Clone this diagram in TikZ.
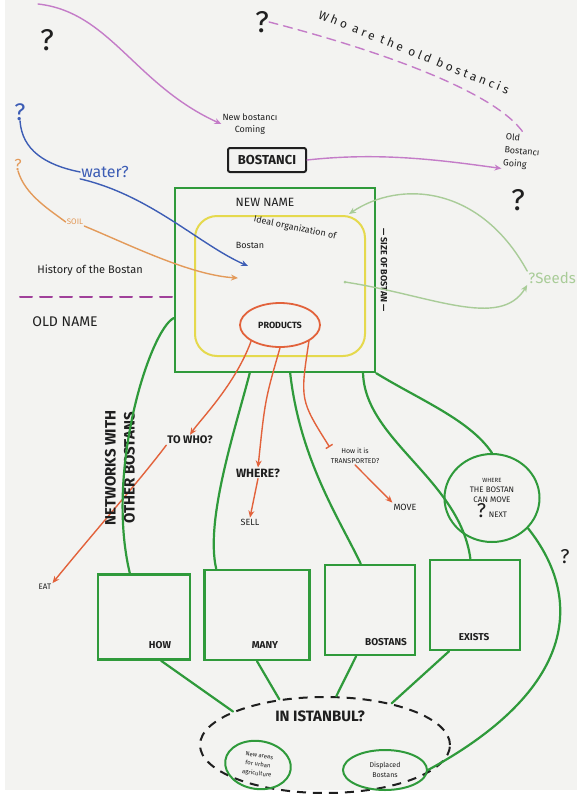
\documentclass[tikz,border=0pt]{standalone}
\usepackage{fontspec}
\setmainfont{Fira Sans}
\newfontfamily\widehand{Fira Sans}[LetterSpace=26.0]
\usetikzlibrary{arrows.meta,shapes.geometric,calc}
\definecolor{paper}{HTML}{F3F3F1}
\definecolor{ink}{HTML}{1F1F1F}
\definecolor{lilac}{HTML}{C47CC8}
\definecolor{namedash}{HTML}{A0409A}
\definecolor{blueink}{HTML}{3D5DB5}
\definecolor{soil}{HTML}{E39A5A}
\definecolor{redink}{HTML}{E2623B}
\definecolor{grn}{HTML}{2F9A3B}
\definecolor{seed}{HTML}{A9CC98}
\definecolor{yel}{HTML}{E5D94D}
\tikzset{
  pen/.style={line width=1.4pt, line cap=round, line join=round},
  greenpen/.style={pen, draw=grn, line width=2.2pt},
  lilacpen/.style={pen, draw=lilac},
  bluepen/.style={pen, draw=blueink},
  soilpen/.style={pen, draw=soil},
  redpen/.style={pen, draw=redink},
  seedpen/.style={pen, draw=seed},
  gbox/.style={rectangle, draw=grn, line width=2.4pt, inner sep=0pt},
  gell/.style={ellipse, draw=grn, line width=2pt, inner sep=0pt, align=center, text=ink},
  hand/.style={text=ink, font=\fontsize{9}{12}\selectfont, align=center, inner sep=1pt},
  caps/.style={text=ink, font=\fontsize{11}{12}\selectfont\bfseries, align=center, inner sep=1pt},
  qmark/.style={text=ink, font=\fontsize{30}{30}\selectfont, inner sep=0pt},
  tip/.style={-{Stealth[length=7pt,width=6pt]}},
}

\begin{document}
\begin{tikzpicture}[x=1pt, y=-1pt]
  % paper
  \fill[white] (0,0) rectangle (577,796);
  \fill[paper] (5,0) rectangle (577,790);
  \useasboundingbox (0,0) rectangle (577,796);

  % top: who comes, who goes
  \node[qmark] (q1) at (47,40) {?};
  \node[qmark] (q2) at (262,22) {?};
  \node[qmark] (q3) at (518,200) {?};
  \coordinate (topleft) at (38,4);
  \node[hand] (newb) at (250,124) {New bostancı\\Coming};
  \node[hand, font=\widehand\fontsize{12}{13}\selectfont, rotate=-22] (who) at (414,52) {Who are the old bostancis};
  \node[hand, rotate=-6, align=left, font=\fontsize{9}{13}\selectfont] (oldb) at (522,152) {Old\\Bostancı\\Going};
  \draw[lilacpen, tip] (topleft) .. controls (110,12) and (135,85) .. (newb.west);
  \draw[lilacpen, dashed, dash pattern=on 9pt off 6pt] (q2.east) .. controls (370,48) and (495,90) .. (oldb.north);
  \node[draw=ink, line width=2pt, rounded corners=2pt, font=\fontsize{13}{14}\selectfont\bfseries,
        text=ink, minimum width=78pt, minimum height=24pt] (bost) at (267,160) {BOSTANCI};
  \draw[lilacpen, tip] (bost.east) .. controls (380,152) and (440,160) .. (oldb.south west);

  % new name box
  \node[gbox, minimum width=200pt, minimum height=184pt] (newname) at (275,280) {};
  \node[caps, font=\fontsize{12}{13}\selectfont] (nn) at (265,202) {NEW NAME};
  \node[draw=yel, line width=2pt, rounded corners=22pt, minimum width=170pt, minimum height=140pt] (ideal) at (280,286) {};
  \node[hand, rotate=-12] (idealtxt) at (295,228) {Ideal organization of};
  \node[hand] (bostan) at (250,245) {Bostan};
  \node[ellipse, draw=redink, line width=1.8pt, minimum width=80pt, minimum height=44pt,
        caps, font=\fontsize{9}{10}\selectfont\bfseries] (prod) at (280,325) {PRODUCTS};
  \node[caps, font=\fontsize{9}{10}\selectfont\bfseries, rotate=-90] (size) at (384,270) {— SIZE OF BOSTAN —};

  % what comes in from the left
  \node[qmark, text=blueink, font=\fontsize{24}{24}\selectfont] (qw) at (20,112) {?};
  \node[hand, text=blueink, font=\fontsize{16}{16}\selectfont] (water) at (105,172) {water?};
  \coordinate (watertip) at (248,266);
  \draw[bluepen] (qw.south) .. controls (22,150) and (45,165) .. (water.west);
  \draw[bluepen, tip] (water.south west) .. controls (150,195) and (200,245) .. (watertip);
  \node[qmark, text=soil, font=\fontsize{16}{16}\selectfont] (qs) at (18,165) {?};
  \node[hand, text=soil, font=\fontsize{8}{9}\selectfont] (soiltxt) at (75,222) {SOIL};
  \coordinate (soiltip) at (238,278);
  \draw[soilpen] (qs.south) .. controls (25,195) and (50,210) .. (soiltxt.west);
  \draw[soilpen, tip] (soiltxt.south east) .. controls (130,245) and (190,275) .. (soiltip);
  \node[hand, font=\fontsize{11}{12}\selectfont] (hist) at (90,270) {History of the Bostan};
  \coordinate (oldstart) at (20,297);
  \draw[pen, draw=namedash, line width=2pt, dash pattern=on 12pt off 8pt] (oldstart) -- (oldstart -| newname.west);
  \node[caps, font=\fontsize{14}{15}\selectfont] (oldname) at (65,322) {OLD NAME};

  % seeds
  \node[hand, text=seed, font=\fontsize{15}{15}\selectfont, anchor=east] (seeds) at (577,278) {?Seeds};
  \coordinate (seedtip) at (349,214);
  \coordinate (seeddot) at (345,282);
  \fill[seed] (seeddot) circle (1.5);
  \draw[seedpen, tip] (seeds.north west) .. controls (480,185) and (400,180) .. (seedtip);
  \draw[seedpen, tip] (seeddot) .. controls (430,295) and (500,330) .. (seeds.south west);

  % products and where they go
  \node[caps] (towho) at (190,440) {TO WHO?};
  \node[caps, font=\fontsize{8}{9}\selectfont] (eat) at (45,587) {EAT};
  \node[caps, font=\fontsize{12}{13}\selectfont\bfseries] (where) at (258,473) {WHERE?};
  \node[caps, font=\fontsize{9}{10}\selectfont] (sell) at (250,522) {SELL};
  \node[hand, font=\fontsize{7}{10}\selectfont] (trans) at (355,456) {How it is\\TRANSPORTED?};
  \node[caps, font=\fontsize{9}{10}\selectfont] (move) at (405,507) {MOVE};
  \draw[redpen, tip] (prod.south west) .. controls (235,385) and (200,420) .. (towho.north);
  \draw[redpen, tip] (towho.south west) .. controls (140,480) and (100,525) .. (eat.north east);
  \draw[redpen, tip] (prod.south) .. controls (265,400) .. (where.north);
  \draw[redpen, tip] (where.south) -- (sell.north);
  \draw[redpen, -{Bar[width=8pt]}] (prod.south east) .. controls (300,400) .. (trans.north west);
  \draw[redpen, tip] (trans.south) .. controls (370,480) .. (move.north west);

  % bottom boxes
  \node[gbox, minimum width=92pt, minimum height=85pt] (b1) at (144,617) {};
  \node[gbox, minimum width=105pt, minimum height=90pt] (b2) at (257,615) {};
  \node[gbox, minimum width=90pt, minimum height=90pt] (b3) at (370,610) {};
  \node[gbox, minimum width=90pt, minimum height=90pt] (b4) at (475,605) {};
  \node[caps, font=\fontsize{10}{11}\selectfont\bfseries] (l1) at (160,645) {HOW};
  \node[caps, font=\fontsize{10}{11}\selectfont\bfseries] (l2) at (265,645) {MANY};
  \node[caps, font=\fontsize{10}{11}\selectfont\bfseries] (l3) at (386,642) {BOSTANS};
  \node[caps, font=\fontsize{10}{11}\selectfont\bfseries] (l4) at (474,637) {EXISTS};

  % green links
  \node[caps, font=\fontsize{15}{19}\selectfont\bfseries, rotate=90] (net) at (120,468) {NETWORKS WITH\\OTHER BOSTANS};
  \node[gell, minimum width=95pt, minimum height=88pt, font=\fontsize{8}{10}\selectfont] (blob) at (492,498)
        {{\fontsize{6}{7}\selectfont WHERE}\\THE BOSTAN\\CAN MOVE\\{\fontsize{20}{20}\selectfont ?} NEXT};
  \draw[greenpen] (newname.west |- 0,318) .. controls (150,330) and (105,470) .. ($(b1.north west)!0.35!(b1.north east)$);
  \draw[greenpen] ($(newname.south west)!0.375!(newname.south east)$) .. controls (235,430) and (205,520) .. ($(b2.north west)!0.12!(b2.north east)$);
  \draw[greenpen] ($(newname.south west)!0.575!(newname.south east)$) .. controls (300,460) and (340,520) .. ($(b3.north west)!0.4!(b3.north east)$);
  \draw[greenpen] ($(newname.south west)!0.935!(newname.south east)$) .. controls (365,440) and (460,480) .. ($(b4.north west)!0.45!(b4.north east)$);
  \draw[greenpen] (newname.south east) .. controls (420,400) and (470,420) .. (blob.north);

  % istanbul
  \node[ellipse, draw=ink, line width=2pt, dash pattern=on 9pt off 7pt, minimum width=250pt, minimum height=96pt] (ist) at (325,745) {};
  \node[caps, font=\fontsize{15}{16}\selectfont\bfseries] (isttxt) at (320,716) {IN ISTANBUL?};
  \node[gell, rotate=-8, minimum width=66pt, minimum height=48pt, font=\fontsize{6}{9}\selectfont] (newareas) at (258,765) {New areas\\for urban\\agriculture};
  \node[gell, minimum width=84pt, minimum height=40pt, font=\fontsize{7}{10}\selectfont] (displaced) at (385,770) {Displaced\\Bostans};
  \draw[greenpen] ($(b1.south west)!0.68!(b1.south east)$) -- (ist.160);
  \draw[greenpen] ($(b2.south west)!0.5!(b2.south east)$) -- (ist.135);
  \draw[greenpen] ($(b3.south west)!0.35!(b3.south east)$) -- (ist.77);
  \draw[greenpen] ($(b4.south west)!0.22!(b4.south east)$) -- (ist.32);
  \draw[greenpen] (blob.-40) .. controls (585,600) and (575,690) .. (displaced.east);
  \node[qmark, font=\fontsize{20}{20}\selectfont] (q4) at (565,557) {?};
\end{tikzpicture}
\end{document}
